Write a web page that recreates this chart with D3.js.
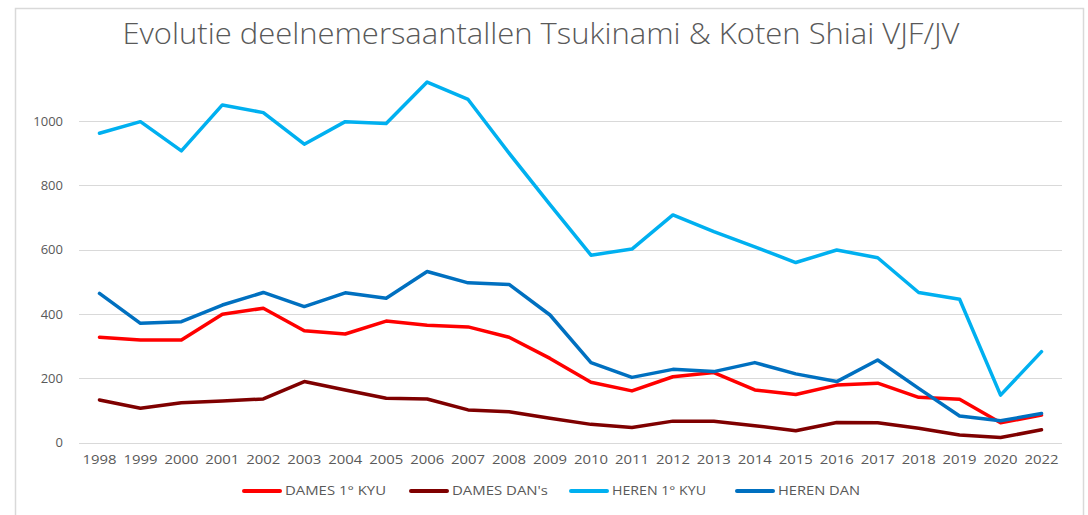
<!DOCTYPE html>
<html>
<head>
<meta charset="utf-8">
<script src="https://cdn.jsdelivr.net/npm/d3@7"></script>
<style>
  body { margin: 0; background: #fff; }
  svg { display: block; }
</style>
</head>
<body>
<script>
var width = 1088,
    height = 515;

// Data
var years = ["1998", "1999", "2000", "2001", "2002", "2003", "2004", "2005", "2006", "2007", "2008", "2009",
             "2010", "2011", "2012", "2013", "2014", "2015", "2016", "2017", "2018", "2019", "2020", "2022"];
var damesKyu = [328, 319, 319, 399, 418, 348, 338, 378, 365, 360, 328, 262, 188, 161, 205, 218, 164, 150, 179, 185, 141, 135, 62, 86];
var damesDan = [133, 107, 124, 130, 136, 190, 164, 138, 136, 102, 96, 76, 57, 47, 67, 67, 53, 37, 63, 62, 45, 24, 16, 40];
var herenKyu = [962, 998, 907, 1050, 1026, 928, 998, 992, 1121, 1067, 900, 740, 583, 602, 708, 656, 609, 560, 599, 575, 467, 446, 148, 283];
var herenDan = [464, 371, 376, 428, 467, 423, 466, 449, 532, 497, 492, 397, 249, 203, 228, 221, 249, 214, 190, 257, 169, 83, 68, 91];
var seriesNames = ["DAMES 1\u00b0 KYU", "DAMES DAN's", "HEREN 1\u00b0 KYU", "HEREN DAN"];
var seriesColors = ["#ff0000", "#7f0000", "#00b0f0", "#0070c0"];
var yTicks = [0, 200, 400, 600, 800, 1000];

var series = [damesKyu, damesDan, herenKyu, herenDan].map(function(v, i) {
  return { name: seriesNames[i], color: seriesColors[i], values: v };
});

var svg = d3.select("body").append("svg")
            .attr("width", width)
            .attr("height", height);

// chart frame
svg.append("rect")
   .attr("x", 15.5).attr("y", 8.5)
   .attr("width", 1068).attr("height", 520)
   .attr("fill", "#fff")
   .attr("stroke", "#d9d9d9")
   .attr("stroke-width", 1.5);

svg.append("text")
   .attr("x", 541).attr("y", 44)
   .attr("text-anchor", "middle")
   .attr("font-family", "Open Sans, sans-serif")
   .attr("font-weight", 300)
   .attr("font-size", 29)
   .attr("fill", "#595959")
   .attr("textLength", 837)
   .attr("lengthAdjust", "spacingAndGlyphs")
   .text("Evolutie deelnemersaantallen Tsukinami & Koten Shiai VJF/JV");

var x = d3.scaleBand()
          .domain(years)
          .range([79, 1062])
          .padding(0);

var y = d3.scaleLinear()
          .domain([0, 1000])
          .range([442.7, 121]);

// gridlines
svg.append("g")
   .selectAll("line")
   .data(yTicks)
   .enter()
   .append("line")
   .attr("x1", 79).attr("x2", 1062)
   .attr("y1", function(d) { return Math.round(y(d)) + 0.5; })
   .attr("y2", function(d) { return Math.round(y(d)) + 0.5; })
   .attr("stroke", "#d9d9d9")
   .attr("stroke-width", 1);

// y axis labels
var yAxis = svg.append("g")
   .attr("transform", "translate(68,0)")
   .call(d3.axisLeft(y).tickValues(yTicks).tickSize(0).tickPadding(5).tickFormat(d3.format("d")));
yAxis.select(".domain").remove();
yAxis.selectAll("text")
   .attr("font-family", "Open Sans, sans-serif")
   .attr("font-size", 13)
   .attr("fill", "#595959");

// x axis labels
var xAxis = svg.append("g")
   .attr("transform", "translate(0,453)")
   .call(d3.axisBottom(x).tickSize(0).tickPadding(2));
xAxis.select(".domain").remove();
xAxis.selectAll("text")
   .attr("font-family", "Open Sans, sans-serif")
   .attr("font-size", 12.5)
   .attr("fill", "#595959")
   .attr("textLength", 34)
   .attr("lengthAdjust", "spacingAndGlyphs");

var line = d3.line()
             .x(function(d, i) { return x(years[i]) + x.bandwidth() / 2; })
             .y(function(d) { return y(d); });

svg.append("g")
   .selectAll("path")
   .data(series)
   .enter()
   .append("path")
   .attr("d", function(d) { return line(d.values); })
   .attr("fill", "none")
   .attr("stroke", function(d) { return d.color; })
   .attr("stroke-width", 3.5)
   .attr("stroke-linejoin", "round")
   .attr("stroke-linecap", "round");

// legend
var legendX = [244, 411, 571, 737];
var legend = svg.append("g")
   .selectAll("g")
   .data(series)
   .enter()
   .append("g")
   .attr("transform", function(d, i) { return "translate(" + legendX[i] + ",491)"; });

legend.append("line")
   .attr("x1", 0).attr("x2", 36)
   .attr("y1", 0).attr("y2", 0)
   .attr("stroke", function(d) { return d.color; })
   .attr("stroke-width", 4)
   .attr("stroke-linecap", "round");

legend.append("text")
   .attr("x", 41).attr("y", 0)
   .attr("dy", "0.35em")
   .attr("font-family", "Open Sans, sans-serif")
   .attr("font-size", 12.5)
   .attr("fill", "#595959")
   .attr("textLength", function(d, i) { return [101, 96, 94, 82][i]; })
   .attr("lengthAdjust", "spacingAndGlyphs")
   .text(function(d) { return d.name; });
</script>
</body>
</html>
